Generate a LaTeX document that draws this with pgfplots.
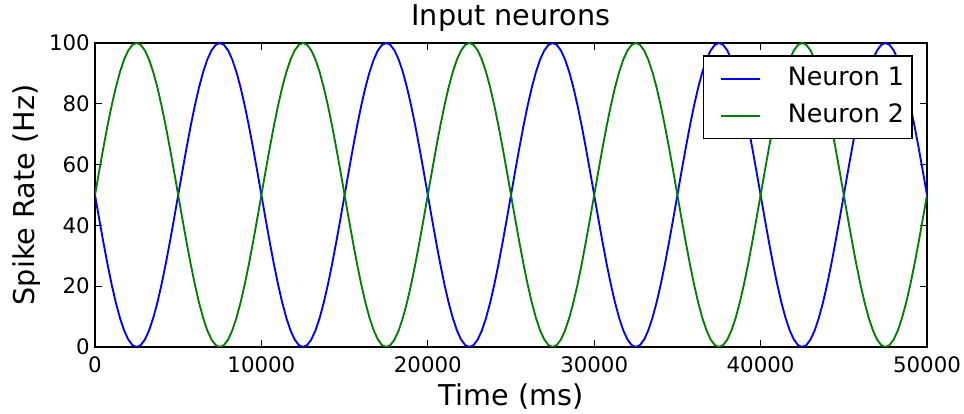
\documentclass[border=0pt]{standalone}
\usepackage{fontspec}
\setmainfont{DejaVu Sans}
\usepackage{pgfplots}
\usepackage{pgfplotstable}
\pgfplotsset{compat=1.18}

\definecolor{mplblue}{rgb}{0,0,1}
\definecolor{mplgreen}{rgb}{0,0.5,0}

% Input spike rates (Hz), sampled every 250 ms
\pgfplotstableread{
t n1 n2
0 50 50
250 42.18 57.82
500 34.55 65.45
750 27.30 72.70
1000 20.61 79.39
1250 14.64 85.36
1500 9.55 90.45
1750 5.45 94.55
2000 2.45 97.55
2250 0.62 99.38
2500 0 100
2750 0.62 99.38
3000 2.45 97.55
3250 5.45 94.55
3500 9.55 90.45
3750 14.64 85.36
4000 20.61 79.39
4250 27.30 72.70
4500 34.55 65.45
4750 42.18 57.82
5000 50 50
5250 57.82 42.18
5500 65.45 34.55
5750 72.70 27.30
6000 79.39 20.61
6250 85.36 14.64
6500 90.45 9.55
6750 94.55 5.45
7000 97.55 2.45
7250 99.38 0.62
7500 100 0
7750 99.38 0.62
8000 97.55 2.45
8250 94.55 5.45
8500 90.45 9.55
8750 85.36 14.64
9000 79.39 20.61
9250 72.70 27.30
9500 65.45 34.55
9750 57.82 42.18
10000 50 50
10250 42.18 57.82
10500 34.55 65.45
10750 27.30 72.70
11000 20.61 79.39
11250 14.64 85.36
11500 9.55 90.45
11750 5.45 94.55
12000 2.45 97.55
12250 0.62 99.38
12500 0 100
12750 0.62 99.38
13000 2.45 97.55
13250 5.45 94.55
13500 9.55 90.45
13750 14.64 85.36
14000 20.61 79.39
14250 27.30 72.70
14500 34.55 65.45
14750 42.18 57.82
15000 50 50
15250 57.82 42.18
15500 65.45 34.55
15750 72.70 27.30
16000 79.39 20.61
16250 85.36 14.64
16500 90.45 9.55
16750 94.55 5.45
17000 97.55 2.45
17250 99.38 0.62
17500 100 0
17750 99.38 0.62
18000 97.55 2.45
18250 94.55 5.45
18500 90.45 9.55
18750 85.36 14.64
19000 79.39 20.61
19250 72.70 27.30
19500 65.45 34.55
19750 57.82 42.18
20000 50 50
20250 42.18 57.82
20500 34.55 65.45
20750 27.30 72.70
21000 20.61 79.39
21250 14.64 85.36
21500 9.55 90.45
21750 5.45 94.55
22000 2.45 97.55
22250 0.62 99.38
22500 0 100
22750 0.62 99.38
23000 2.45 97.55
23250 5.45 94.55
23500 9.55 90.45
23750 14.64 85.36
24000 20.61 79.39
24250 27.30 72.70
24500 34.55 65.45
24750 42.18 57.82
25000 50 50
25250 57.82 42.18
25500 65.45 34.55
25750 72.70 27.30
26000 79.39 20.61
26250 85.36 14.64
26500 90.45 9.55
26750 94.55 5.45
27000 97.55 2.45
27250 99.38 0.62
27500 100 0
27750 99.38 0.62
28000 97.55 2.45
28250 94.55 5.45
28500 90.45 9.55
28750 85.36 14.64
29000 79.39 20.61
29250 72.70 27.30
29500 65.45 34.55
29750 57.82 42.18
30000 50 50
30250 42.18 57.82
30500 34.55 65.45
30750 27.30 72.70
31000 20.61 79.39
31250 14.64 85.36
31500 9.55 90.45
31750 5.45 94.55
32000 2.45 97.55
32250 0.62 99.38
32500 0 100
32750 0.62 99.38
33000 2.45 97.55
33250 5.45 94.55
33500 9.55 90.45
33750 14.64 85.36
34000 20.61 79.39
34250 27.30 72.70
34500 34.55 65.45
34750 42.18 57.82
35000 50 50
35250 57.82 42.18
35500 65.45 34.55
35750 72.70 27.30
36000 79.39 20.61
36250 85.36 14.64
36500 90.45 9.55
36750 94.55 5.45
37000 97.55 2.45
37250 99.38 0.62
37500 100 0
37750 99.38 0.62
38000 97.55 2.45
38250 94.55 5.45
38500 90.45 9.55
38750 85.36 14.64
39000 79.39 20.61
39250 72.70 27.30
39500 65.45 34.55
39750 57.82 42.18
40000 50 50
40250 42.18 57.82
40500 34.55 65.45
40750 27.30 72.70
41000 20.61 79.39
41250 14.64 85.36
41500 9.55 90.45
41750 5.45 94.55
42000 2.45 97.55
42250 0.62 99.38
42500 0 100
42750 0.62 99.38
43000 2.45 97.55
43250 5.45 94.55
43500 9.55 90.45
43750 14.64 85.36
44000 20.61 79.39
44250 27.30 72.70
44500 34.55 65.45
44750 42.18 57.82
45000 50 50
45250 57.82 42.18
45500 65.45 34.55
45750 72.70 27.30
46000 79.39 20.61
46250 85.36 14.64
46500 90.45 9.55
46750 94.55 5.45
47000 97.55 2.45
47250 99.38 0.62
47500 100 0
47750 99.38 0.62
48000 97.55 2.45
48250 94.55 5.45
48500 90.45 9.55
48750 85.36 14.64
49000 79.39 20.61
49250 72.70 27.30
49500 65.45 34.55
49750 57.82 42.18
50000 50 50
}\ratedata

\begin{document}
\begin{tikzpicture}
\begin{axis}[
  scale only axis,
  width=624pt, height=228pt,
  xmin=0, xmax=50000, ymin=0, ymax=100,
  xtick={0,10000,...,50000},
  ytick={0,20,...,100},
  scaled x ticks=false,
  /pgf/number format/assume math mode=true,
  /pgf/number format/set thousands separator={},
  tick align=inside,
  major tick length=5pt,
  tick style={black, line width=0.75pt},
  axis line style={black, line width=1pt},
  ticklabel style={font=\fontsize{16}{19}\selectfont, inner sep=0pt},
  yticklabel style={xshift=-3.75pt},
  xticklabel style={yshift=-6.75pt},
  title={Input neurons},
  title style={font=\fontsize{21.5}{25}\selectfont, inner sep=0pt,
    at={(axis description cs:0.5,1.0296)}, anchor=base},
  xlabel={Time (ms)},
  xlabel style={font=\fontsize{21.5}{25}\selectfont, inner sep=0pt,
    at={(axis description cs:0.5,-0.194)}, anchor=base},
  ylabel={Spike Rate (Hz)},
  ylabel style={font=\fontsize{21.5}{25}\selectfont, inner sep=0pt,
    at={(axis description cs:-0.0722,0.5)}, anchor=base},
  legend image code/.code={%
    \path (0pt,-4pt);
    \draw[#1] (6.5pt,0pt) -- (35.25pt,0pt);},
  legend style={
    at={(axis description cs:0.983,0.9605)}, anchor=north east,
    draw=black, line width=1.2pt,
    font=\fontsize{19}{22}\selectfont,
    inner xsep=6pt, inner ysep=8.2pt,
    column sep=20.5pt, row sep=9.75pt,
    nodes={inner sep=0pt, text depth=4pt},
    cells={anchor=west},
  },
]
\addplot[mplblue, line width=1.4pt] table[x=t, y=n1] {\ratedata};
\addlegendentry{Neuron 1}
\addplot[mplgreen, line width=1.4pt] table[x=t, y=n2] {\ratedata};
\addlegendentry{Neuron 2}
\end{axis}
\pgfresetboundingbox
\path[use as bounding box] (-71.25pt,-50.25pt) rectangle (651.75pt,260.25pt);
\end{tikzpicture}
\end{document}
